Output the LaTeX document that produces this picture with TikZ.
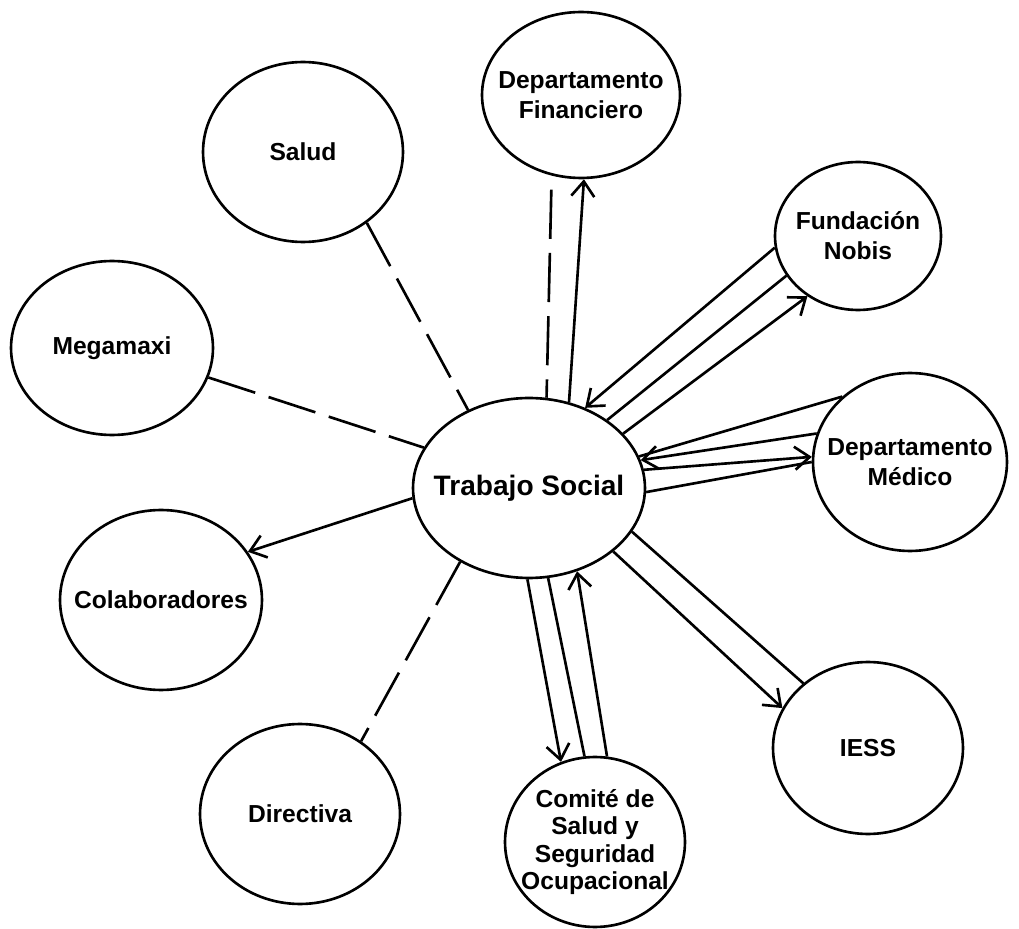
\documentclass[tikz,border=0pt]{standalone}
\usepackage{fontspec}
\setmainfont{Liberation Sans}
\usepackage{tikz}
\usetikzlibrary{positioning, shapes.geometric, arrows.meta}
\tikzset{
  actor/.style={
    ellipse, draw=black, line width=1.5pt,
    fill=white, inner xsep=-1cm, inner ysep=-0.6cm,
    align=center,
    font=\fontsize{14}{17}\selectfont\bfseries
  },
  flow/.style={
    -{Straight Barb[length=3mm, width=4.6mm, line width=1.5pt]},
    line width=1.5pt
  },
  tie/.style={line width=1.5pt},
  loose/.style={line width=1.5pt, dash pattern=on 28pt off 8pt}
}

\begin{document}
\begin{tikzpicture}[x=0.02cm, y=-0.02cm]
  \useasboundingbox (0,0) rectangle (1019,929);
  % centre
  \node[actor, minimum width=4.64cm, minimum height=3.6cm, font=\fontsize{16}{18}\selectfont\bfseries] (ts) at (529,488) {Trabajo Social};
  % surrounding ellipses
  \node[actor, minimum width=3.96cm, minimum height=3.32cm] (fin) at (581,95) {Departamento\\Financiero};
  \node[actor, minimum width=4.0cm, minimum height=3.6cm] (salud) at (303,152) {Salud};
  \node[actor, minimum width=4.04cm, minimum height=3.48cm] (mega) at (112,348) {Megamaxi};
  \node[actor, minimum width=3.32cm, minimum height=2.96cm] (nobis) at (858,236) {Fundación\\Nobis};
  \node[actor, minimum width=3.88cm, minimum height=3.56cm] (med) at (910,462) {Departamento\\Médico};
  \node[actor, minimum width=4.04cm, minimum height=3.6cm] (colab) at (161,600) {Colaboradores};
  \node[actor, minimum width=3.8cm, minimum height=3.44cm] (iess) at (868,748) {IESS};
  \node[actor, minimum width=4.0cm, minimum height=3.6cm] (dir) at (300,814) {Directiva};
  \node[actor, minimum width=3.6cm, minimum height=3.4cm, font=\fontsize{14}{15.5}\selectfont\bfseries] (com) at (595,842) {Comité de\\Salud y\\Seguridad\\Ocupacional};

  % dashed ties
  \draw[loose] (salud.-48.6) -- (ts.128.3);
  \draw[loose] (mega.-17) -- (ts.159.4);
  \draw[loose, shorten <=0.28cm] (fin.250.2) -- (ts.79.4);
  \draw[loose] (ts.-133) -- (dir.50.8);

  % Departamento Financiero
  \draw[flow] (ts.65.5) -- (fin.-88.8);
  % Fundacion Nobis
  \draw[flow] (nobis.188.3) -- (ts.55.1);
  \draw[tie] (nobis.209.1) -- (ts.41.4);
  \draw[flow] (ts.30.3) -- (nobis.230.9);
  % Departamento Medico
  \draw[tie] (med.136.3) -- (ts.16.1);
  \draw[flow] (med.163.5) -- (ts.14.5);
  \draw[flow] (ts.9.5) -- (med.177.7);
  \draw[tie] (ts.-2.7) -- (med.180);
  % IESS
  \draw[tie] (ts.-23.1) -- (iess.135.9);
  \draw[flow] (ts.-37.6) -- (iess.155.4);
  % Comite
  \draw[flow] (ts.-91.3) -- (com.113.8);
  \draw[tie] (ts.-78) -- (com.97.6);
  \draw[flow] (com.82) -- (ts.-60.3);
  % Colaboradores
  \draw[flow] (ts.185.1) -- (colab.29);
\end{tikzpicture}
\end{document}
